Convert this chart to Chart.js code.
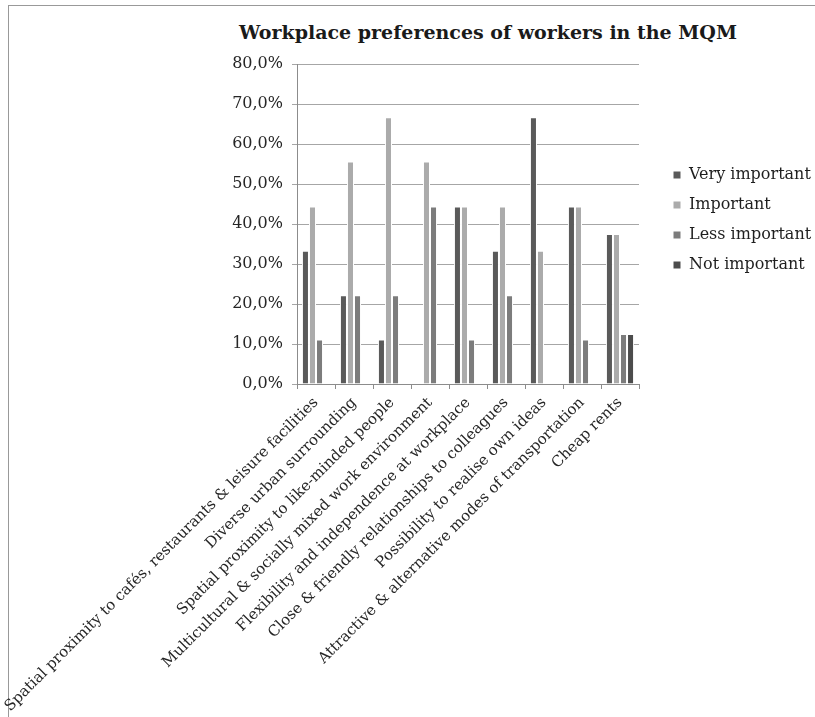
<!DOCTYPE html>
<html>
<head>
<meta charset="utf-8">
<script src="https://cdn.jsdelivr.net/npm/chart.js@4.4.1/dist/chart.umd.min.js"></script>
<style>
  html, body { margin: 0; padding: 0; background: #fff; overflow: hidden; }
  #frame { position: absolute; left: 8px; top: 5px; width: 830px; height: 730px;
           border-top: 1px solid #999; border-left: 1px solid #999; }
  #title { position: absolute; left: 488px; top: 21px; transform: translateX(-50%);
           white-space: nowrap; font: bold 19px "DejaVu Serif", serif; color: #1a1a1a; }
  #wrap { position: absolute; left: 0; top: 0; width: 835px; height: 717px; }
</style>
</head>
<body>
<div id="frame"></div>
<div id="title">Workplace preferences of workers in the MQM</div>
<div id="wrap"><canvas id="chart"></canvas></div>
<script>
// values in percent
const categories = [
  'Spatial proximity to cafés, restaurants & leisure facilities',
  'Diverse urban surrounding',
  'Spatial proximity to like-minded people',
  'Multicultural & socially mixed work environment',
  'Flexibility and independence at workplace',
  'Close & friendly relationships to colleagues',
  'Possibility to realise own ideas',
  'Attractive & alternative modes of transportation',
  'Cheap rents'
]
const veryImportant = [33.3, 22.2, 11.1, 0, 44.4, 33.3, 66.7, 44.4, 37.5]
const important = [44.4, 55.6, 66.7, 55.6, 44.4, 44.4, 33.3, 44.4, 37.5]
const lessImportant = [11.1, 22.2, 22.2, 44.4, 11.1, 22.2, 0, 11.1, 12.5]
const notImportant = [0, 0, 0, 0, 0, 0, 0, 0, 12.5]
const yTicks = [0, 10, 20, 30, 40, 50, 60, 70, 80]

Chart.defaults.font.family = '"DejaVu Serif", serif'
Chart.defaults.color = '#262626'

function series(label, data, color) {
  return {
    label: label,
    data: data,
    backgroundColor: color,
    borderColor: '#ffffff',
    borderWidth: 1,
    borderSkipped: 'start',
    categoryPercentage: 0.74,
    barPercentage: 1
  }
}

// the legend in the original sits a bit right of the plot and slightly above its centre
const legendNudge = {
  id: 'legendNudge',
  afterLayout(chart) {
    const lg = chart.legend
    lg.left += 20
    lg.right += 20
    lg.top -= 4
    lg.bottom -= 4
  }
}

new Chart(document.getElementById('chart'), {
  type: 'bar',
  data: {
    labels: categories,
    datasets: [
      series('Very important', veryImportant, '#5a5a5a'),
      series('Important', important, '#ababab'),
      series('Less important', lessImportant, '#7c7c7c'),
      series('Not important', notImportant, '#4c4c4c')
    ]
  },
  plugins: [legendNudge],
  options: {
    responsive: true,
    maintainAspectRatio: false,
    animation: false,
    layout: { padding: { top: 64, left: 0, right: 0, bottom: 0 } },
    plugins: {
      title: { display: false },
      tooltip: { enabled: false },
      legend: {
        position: 'right',
        fullSize: false,
        labels: { boxWidth: 8, boxHeight: 8, padding: 14, font: { size: 16 }, color: '#1f1f1f' }
      }
    },
    scales: {
      x: {
        grid: { drawOnChartArea: false, drawTicks: true, tickLength: 5, color: '#8c8c8c' },
        border: { color: '#8c8c8c' },
        ticks: { autoSkip: false, maxRotation: 45, minRotation: 45, padding: 5, font: { size: 15 }, color: '#262626' },
        afterFit: (s) => { s.paddingLeft = 297; s.paddingRight = 196; s.height = 333 }
      },
      y: {
        min: 0,
        max: 80,
        afterBuildTicks: (s) => { s.ticks = yTicks.map(v => ({ value: v })) },
        grid: { color: '#a6a6a6', tickLength: 5 },
        border: { color: '#8c8c8c' },
        ticks: {
          padding: 9,
          font: { size: 16 },
          color: '#262626',
          callback: (v) => v.toFixed(1).replace('.', ',') + '%'
        }
      }
    }
  }
})
</script>
</body>
</html>
